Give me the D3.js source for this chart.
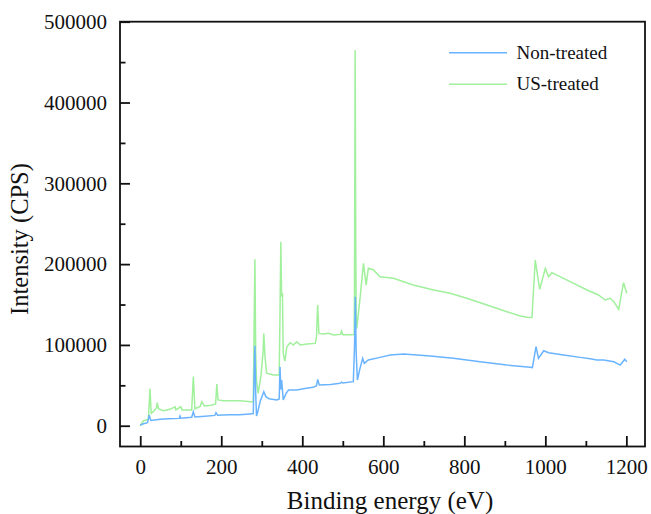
<!DOCTYPE html>
<html>
<head>
<meta charset="utf-8">
<script src="https://cdn.jsdelivr.net/npm/d3@7"></script>
<style>
  body { margin: 0; background: #fff; }
  svg text { font-family: "Times New Roman", "Liberation Serif", serif; fill: #111; }
</style>
</head>
<body>
<svg id="chart" width="651" height="514"></svg>
<script>
// XPS survey spectra
var nonTreatedEnergy = [0, 8, 18, 22, 26, 35, 49, 70, 96, 98, 100, 127, 131, 135, 160, 184, 187, 191, 220, 246, 270, 279,
    281, 283, 285, 287, 290, 296, 305, 310, 318, 337, 343, 345, 347, 349, 353, 360, 366, 386, 410, 427, 435, 438, 442,
    470, 493, 497, 500, 526, 529, 531, 533, 536, 542, 549, 553, 563, 592, 617, 650, 716, 773, 839, 905, 963, 968,
    977, 983, 996, 1008, 1045, 1086, 1111, 1127, 1144, 1169, 1185, 1196, 1201];
var nonTreatedCps = [900, 2500, 3800, 13200, 6500, 7200, 7900, 8600, 9100, 12000, 9200, 10400, 17300, 10800, 11800, 12800, 16100, 13000, 13600, 13700, 14600, 15000,
    60000, 99000, 40000, 12000, 17000, 30000, 42000, 36000, 33500, 31800, 33000, 73000, 45000, 56600, 31800, 40000, 44200, 44200, 46500, 47500, 49500, 57400, 50400,
    51000, 52500, 54000, 52800, 54500, 100000, 159700, 90000, 56600, 70000, 83400, 77200, 81300, 84600, 87500, 88700, 86300, 83400, 79200, 75100, 72300, 72000,
    97800, 83400, 92800, 90300, 87500, 84600, 83000, 81300, 81300, 79200, 75100, 82200, 79200];

var usTreatedEnergy = [0, 8, 20, 24, 27, 32, 40, 42, 45, 57, 73, 86, 88, 100, 103, 127, 131, 135, 148, 152, 158, 176, 186, 189, 192, 205, 246, 279,
    281, 283, 285, 287, 291, 298, 303, 305, 308, 312, 329, 343, 345, 347, 349, 351, 353, 357, 362, 370, 378, 386, 395, 411, 432, 435, 438, 441,
    452, 465, 477, 494, 497, 500, 522, 528, 529, 530.5, 532, 533, 534.5, 543, 551, 557.6, 563, 575, 592, 625, 674, 724, 765, 806, 856, 905, 938, 955, 967,
    975, 986, 1000, 1008, 1016, 1045, 1070, 1103, 1131, 1148, 1160, 1169, 1181, 1193, 1201];
var usTreatedCps = [0, 6200, 7800, 46000, 15300, 17400, 22000, 28500, 21000, 18500, 20300, 23500, 19500, 23500, 19500, 19600, 61000, 21000, 24000, 29700, 24500, 25300, 27000, 51600, 32000, 31000, 31000, 29500,
    120000, 206000, 90000, 55000, 40000, 62000, 90000, 114000, 85000, 65000, 62700, 62700, 140000, 227700, 160000, 164000, 89500, 80000, 97800, 102700, 99900, 104000, 100000, 101100, 101900, 110000, 149400, 114300,
    113500, 114300, 112200, 113000, 117200, 112500, 112500, 113000, 180000, 465000, 230000, 140000, 120500, 160000, 201000, 174100, 194800, 193000, 184400, 182400, 174100, 168000, 163900, 157700, 149400, 141100, 135800, 134200, 134000,
    205100, 168800, 194800, 184400, 189400, 182400, 176200, 168000, 161800, 155600, 157700, 153500, 144000, 177000, 163900];

var seriesNames = ["Non-treated", "US-treated"];
var seriesColors = ["#6ab4ff", "#a0f09c"];
var yMajorTicks = [0, 100000, 200000, 300000, 400000, 500000];
var yMinorTicks = [50000, 150000, 250000, 350000, 450000];
var xMajorTicks = [0, 200, 400, 600, 800, 1000, 1200];
var xMinorTicks = [100, 300, 500, 700, 900, 1100];

var svg = d3.select("#chart");
var plotLeft = 120, plotRight = 645, plotTop = 21.7, plotBottom = 446.5;

var x = d3.scaleLinear().domain([-50, 1246]).range([plotLeft, plotRight]);
var y = d3.scaleLinear().domain([-25700, 500000]).range([plotBottom, plotTop]);

function pairs(xs, ys) {
    return xs.map(function (v, i) { return [v, ys[i]]; });
}
var line = d3.line().x(function (d) { return x(d[0]); }).y(function (d) { return y(d[1]); });

// green under blue, like the picture
svg.append("path").datum(pairs(usTreatedEnergy, usTreatedCps))
    .attr("d", line).attr("fill", "none").attr("stroke", seriesColors[1]).attr("stroke-width", 1.5);
svg.append("path").datum(pairs(nonTreatedEnergy, nonTreatedCps))
    .attr("d", line).attr("fill", "none").attr("stroke", seriesColors[0]).attr("stroke-width", 1.5);

// axes, ticks pointing inwards
var yAxis = svg.append("g").attr("transform", "translate(" + plotLeft + ",0)")
    .call(d3.axisLeft(y).tickValues(yMajorTicks).tickSizeInner(-10).tickSizeOuter(0).tickPadding(13).tickFormat(d3.format("d")));
var yMinor = svg.append("g").attr("transform", "translate(" + plotLeft + ",0)")
    .call(d3.axisLeft(y).tickValues(yMinorTicks).tickSizeInner(-5.5).tickSizeOuter(0).tickFormat(""));
var xAxis = svg.append("g").attr("transform", "translate(0," + plotBottom + ")")
    .call(d3.axisBottom(x).tickValues(xMajorTicks).tickSizeInner(-10.5).tickSizeOuter(0).tickPadding(12.5).tickFormat(d3.format("d")));
var xMinor = svg.append("g").attr("transform", "translate(0," + plotBottom + ")")
    .call(d3.axisBottom(x).tickValues(xMinorTicks).tickSizeInner(-5.5).tickSizeOuter(0).tickFormat(""));

[yAxis, yMinor, xAxis, xMinor].forEach(function (g) {
    g.select(".domain").remove();
    g.selectAll(".tick line").attr("stroke", "#111").attr("stroke-width", 1.8);
    g.selectAll(".tick text").attr("font-size", 21).attr("font-family", null).style("fill", "#111");
});

// frame
svg.append("rect").attr("x", plotLeft).attr("y", plotTop)
    .attr("width", plotRight - plotLeft).attr("height", plotBottom - plotTop)
    .attr("fill", "none").attr("stroke", "#111").attr("stroke-width", 1.8);

// titles
svg.append("text").attr("x", 390).attr("y", 509).attr("text-anchor", "middle")
    .attr("font-size", 25).text("Binding energy (eV)");
svg.append("text").attr("transform", "translate(28,239) rotate(-90)").attr("text-anchor", "middle")
    .attr("font-size", 24.5).text("Intensity (CPS)");

// legend
var legend = svg.append("g");
seriesNames.forEach(function (name, i) {
    var ly = 52.7 + i * 31.6;
    legend.append("line").attr("x1", 449).attr("x2", 507).attr("y1", ly).attr("y2", ly)
        .attr("stroke", seriesColors[i]).attr("stroke-width", 1.5);
    legend.append("text").attr("x", 516.5).attr("y", ly + 6).attr("font-size", 19).text(name);
});
</script>
</body>
</html>
